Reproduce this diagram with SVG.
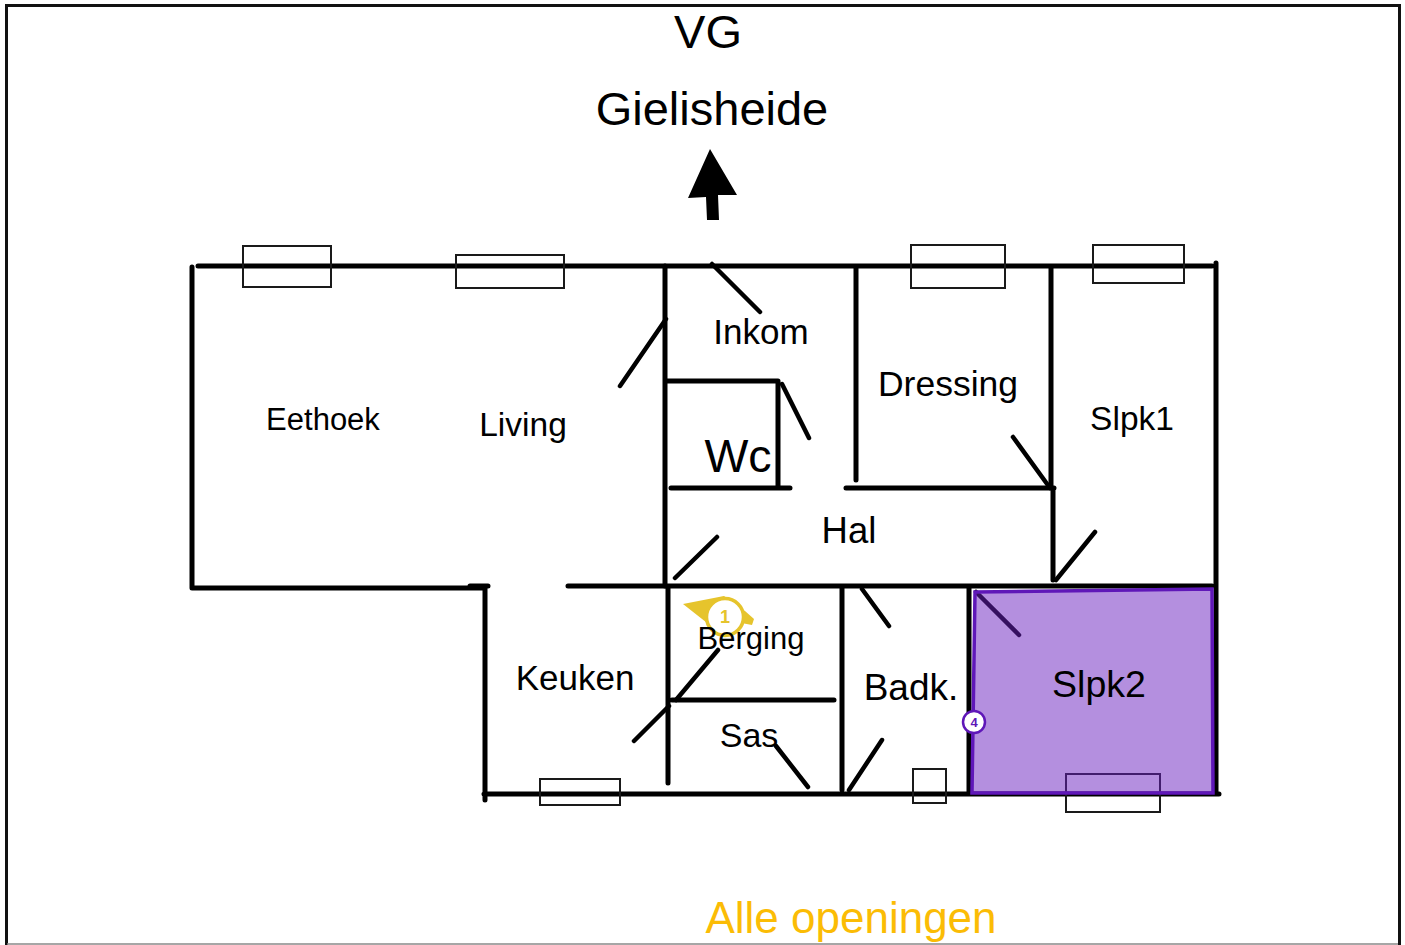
<svg xmlns="http://www.w3.org/2000/svg" width="1405" height="945" viewBox="0 0 1405 945">
<style>
.w{fill:none;stroke:#000;stroke-width:5;stroke-linecap:round;stroke-linejoin:round}
.d{fill:none;stroke:#000;stroke-width:4.500;stroke-linecap:round}
.o{fill:none;stroke:#1a1a1a;stroke-width:2}
text{font-family:"Liberation Sans",Arial,sans-serif;fill:#000;text-anchor:middle}
.b{fill:#fff;stroke-width:2.500}
</style>
<rect width="1405" height="945" fill="#fff"/>
<g id="frame"><path d="M6.500 945V5.500H1399.500V945" fill="none" stroke="#111" stroke-width="3"/><path d="M7 944H1398" stroke="#888" stroke-width="1.500"/></g>
<g id="walls">
<path class="w" d="M198 266H1212M192 267V588H484M470 586H488M485 588V800M484 794H1219M568 586H1212M1216 263V794"/>
<path class="w" d="M665 266V586M666 381H778V487M671 488H790M846 488H1054M856 268V480M1051 268V488M1053 488V580"/>
<path class="w" d="M668 588V783M672 700H834M842 588V790M969 588V793"/>
</g>
<g id="doors">
<path class="d" d="M712 264L760 312M666 319L620 386M782 384L809 438M1013 437L1050 488M717 537L675 578M1095 532L1056 580M862 589L889 626M718 650L676 700M669 706L634 741M776 746L808 787M882 740L849 790M976 592L1019 635"/>
</g>
<g id="windows">
<rect class="o" x="243" y="246" width="88" height="41"/>
<rect class="o" x="456" y="255" width="108" height="33"/>
<rect class="o" x="911" y="245" width="94" height="43"/>
<rect class="o" x="1093" y="245" width="91" height="38"/>
<rect class="o" x="540" y="779" width="80" height="26"/>
<rect class="o" x="913" y="769" width="33" height="34"/>
<rect class="o" x="1066" y="774" width="94" height="38"/>
</g>
<g id="north-arrow"><path d="M710 149L737 195L718 195L719 220L707 220L706 197L688 198Z" fill="#000"/></g>
<g id="zone-slpk2"><path d="M975 592L1212 589L1213 793L972 793Z" fill="#6a1fbf" fill-opacity=".5" stroke="#5f17b8" stroke-width="3.500"/></g>
<g id="marker-1">
<path d="M683 604L724 596L745 611L754 619L752 625L736 622L716 630Z" fill="#e6c42c"/>
<circle cx="725" cy="617" r="18.500" fill="#fff" stroke="#e6c42c" stroke-width="3.500"/>
<text x="725" y="623" font-size="18" font-weight="700" style="fill:#e6c42c">1</text>
</g>
<g id="marker-4">
<circle cx="974" cy="722" r="11" class="b" stroke="#5f17b8"/>
<text x="974" y="727" font-size="13" font-weight="700" style="fill:#5f17b8">4</text>
</g>
<g id="labels">
<text x="708" y="48" font-size="47">VG</text>
<text x="712" y="125" font-size="47">Gielisheide</text>
<text x="323" y="430" font-size="31">Eethoek</text>
<text x="523" y="436" font-size="33.500">Living</text>
<text x="761" y="344" font-size="35">Inkom</text>
<text x="948" y="396" font-size="35.500">Dressing</text>
<text x="1132" y="430" font-size="33.500">Slpk1</text>
<text x="738" y="472" font-size="46.500">Wc</text>
<text x="849" y="543" font-size="36.500">Hal</text>
<text x="751" y="649" font-size="31">Berging</text>
<text x="575" y="690" font-size="35">Keuken</text>
<text x="911" y="700" font-size="37">Badk.</text>
<text x="1099" y="697" font-size="37.500">Slpk2</text>
<text x="749" y="747" font-size="34">Sas</text>
<text x="851" y="933" font-size="44" style="fill:#fbbc05">Alle openingen</text>
</g>
</svg>
